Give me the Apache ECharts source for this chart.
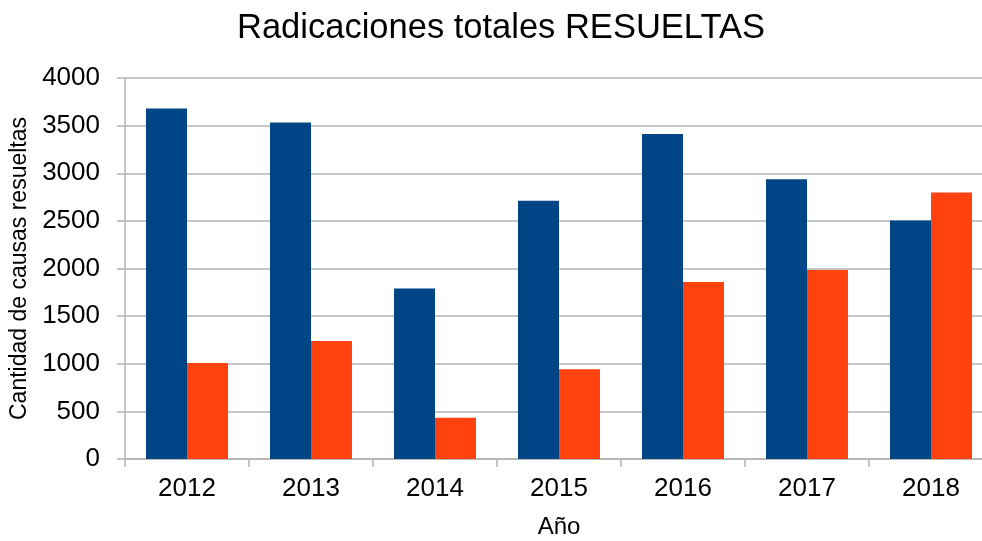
<!DOCTYPE html>
<html lang="es">

<head>
  <meta charset="UTF-8">
  <title>Radicaciones totales RESUELTAS</title>
  <script src="https://cdn.jsdelivr.net/npm/echarts@6/dist/echarts.min.js"></script>
  <style>
    html, body { margin: 0; padding: 0; background: #fff; }
    #main { width: 982px; height: 541px; }
  </style>
</head>

<body>
  <div id="main"></div>
  <script>
    // datos
    const years = ['2012', '2013', '2014', '2015', '2016', '2017', '2018'];
    const serieAzul = [3681, 3534, 1791, 2712, 3412, 2936, 2505];
    const serieNaranja = [1008, 1239, 434, 941, 1858, 1984, 2799];
    const yTicks = { min: 0, max: 4000, interval: 500 };

    const font = '"Liberation Sans", Arial, sans-serif';
    const gris = '#b3b3b3';

    let myChart = echarts.init(document.getElementById('main'));

    let option = {
      animation: false,
      textStyle: { fontFamily: font },
      title: {
        text: 'Radicaciones totales RESUELTAS',
        left: 496,
        top: 6,
        textAlign: 'center',
        textStyle: { fontFamily: font, fontSize: 34.5, fontWeight: 'normal', color: '#000' }
      },
      grid: {
        left: 125, top: 78, width: 868, height: 381,
        containLabel: false,
        outerBoundsMode: 'none'
      },
      xAxis: {
        type: 'category',
        data: years,
        name: 'Año',
        nameLocation: 'middle',
        nameGap: 56,
        nameTextStyle: { fontSize: 24, color: '#000', fontFamily: font },
        axisLine: { lineStyle: { color: gris, width: 1.5 } },
        axisTick: { show: true, length: 8, lineStyle: { color: gris, width: 1.5 } },
        axisLabel: { fontSize: 26, color: '#000', margin: 17, fontFamily: font }
      },
      yAxis: {
        type: 'value',
        min: yTicks.min,
        max: yTicks.max,
        interval: yTicks.interval,
        name: 'Cantidad de causas resueltas',
        nameLocation: 'middle',
        nameGap: 93,
        nameRotate: 90,
        nameTextStyle: { fontSize: 23, color: '#000', fontFamily: font },
        axisLine: { show: true, lineStyle: { color: gris, width: 1.5 } },
        axisTick: { show: true, length: 8, lineStyle: { color: gris, width: 1.5 } },
        axisLabel: {
          fontSize: 26, color: '#000', margin: 25, fontFamily: font,
          formatter: v => String(v)
        },
        splitLine: { lineStyle: { color: gris, width: 1.5 } }
      },
      series: [
        {
          type: 'bar',
          data: serieAzul,
          barWidth: 41,
          barGap: '0%',
          itemStyle: { color: '#004586' }
        },
        {
          type: 'bar',
          data: serieNaranja,
          barWidth: 41,
          barGap: '0%',
          itemStyle: { color: '#ff420e' }
        }
      ]
    };

    myChart.setOption(option);
  </script>
</body>

</html>
